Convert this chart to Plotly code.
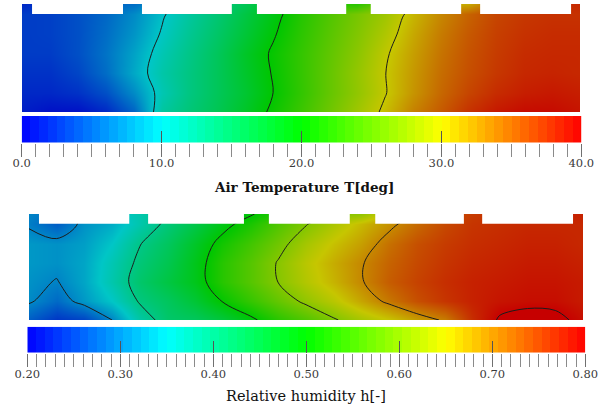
import numpy as np
import plotly.graph_objects as go

# ---------------- data ----------------
# grid columns (m along the room) and rows (height, last row = top of the inlets)
X_POS = [0, 0.5, 1, 1.5, 2, 2.5, 3, 3.5, 4, 4.5, 5, 5.5, 6, 6.5, 7, 7.5, 8, 8.5, 9, 9.5, 10]
Y_POS = [0, 0.35, 0.7, 1.05, 1.4, 1.76, 1.94]

# Air temperature [deg], rows bottom -> top
TEMP = [
    [1.5, 0.8, 0.8, 2.0, 5.0, 12.0, 14.0, 15.8, 18.0, 20.6, 23.0, 25.5, 28.0, 30.5, 33.5, 35.5, 37.5, 38.8, 39.5, 39.5, 39.0],
    [2.0, 2.0, 2.5, 4.0, 7.0, 11.0, 13.5, 15.5, 17.5, 20.0, 22.5, 25.0, 27.3, 29.8, 32.5, 34.8, 36.5, 37.8, 38.5, 38.8, 38.5],
    [2.5, 2.5, 3.5, 5.5, 8.5, 11.5, 13.5, 15.5, 17.8, 20.2, 22.6, 25.0, 27.4, 29.9, 32.3, 34.5, 36.0, 37.2, 38.0, 38.2, 38.0],
    [3.0, 3.0, 4.0, 5.8, 8.2, 11.0, 13.2, 15.4, 18.0, 20.4, 22.6, 24.8, 27.0, 29.6, 32.0, 34.2, 35.8, 37.0, 37.8, 38.0, 38.0],
    [3.0, 3.2, 4.0, 5.5, 7.5, 10.2, 12.6, 14.8, 17.2, 19.7, 22.2, 24.4, 26.5, 28.8, 31.5, 33.8, 35.5, 36.8, 37.5, 37.8, 37.8],
    [3.0, 3.2, 4.0, 5.2, 7.0, 9.6, 12.0, 14.2, 16.6, 19.0, 21.8, 24.0, 26.0, 28.0, 30.8, 33.2, 35.0, 36.5, 37.2, 37.5, 37.5],
    [2.0, 3.0, 4.0, 5.0, 5.5, 8.0, 11.0, 13.5, 15.7, 18.5, 21.0, 22.0, 22.0, 26.0, 29.0, 31.0, 31.5, 35.0, 37.0, 37.5, 38.0],
]

# Relative humidity [-], rows bottom -> top
HUM = [
    [0.27, 0.24, 0.25, 0.30, 0.375, 0.42, 0.43, 0.455, 0.49, 0.53, 0.56, 0.595, 0.625, 0.65, 0.68, 0.705, 0.765, 0.805, 0.815, 0.81, 0.79],
    [0.305, 0.28, 0.315, 0.35, 0.405, 0.43, 0.46, 0.503, 0.54, 0.575, 0.61, 0.64, 0.675, 0.71, 0.74, 0.76, 0.775, 0.785, 0.79, 0.79, 0.78],
    [0.31, 0.298, 0.325, 0.37, 0.42, 0.45, 0.48, 0.53, 0.565, 0.601, 0.635, 0.665, 0.697, 0.73, 0.75, 0.765, 0.775, 0.78, 0.785, 0.785, 0.78],
    [0.315, 0.31, 0.325, 0.365, 0.41, 0.44, 0.48, 0.53, 0.565, 0.603, 0.64, 0.67, 0.697, 0.725, 0.745, 0.76, 0.77, 0.775, 0.78, 0.78, 0.775],
    [0.315, 0.31, 0.32, 0.35, 0.398, 0.43, 0.47, 0.515, 0.55, 0.585, 0.625, 0.655, 0.68, 0.715, 0.74, 0.755, 0.765, 0.77, 0.775, 0.775, 0.77],
    [0.295, 0.27, 0.31, 0.33, 0.37, 0.41, 0.445, 0.485, 0.52, 0.56, 0.597, 0.63, 0.66, 0.69, 0.72, 0.745, 0.76, 0.765, 0.77, 0.77, 0.77],
    [0.30, 0.28, 0.31, 0.34, 0.37, 0.40, 0.44, 0.47, 0.495, 0.53, 0.57, 0.60, 0.61, 0.66, 0.70, 0.74, 0.755, 0.765, 0.77, 0.775, 0.775],
]

T_RANGE = [0.0, 40.0]
H_RANGE = [0.2, 0.8]
T_LEVELS = dict(start=10, end=30, size=10)
H_LEVELS = dict(start=0.3, end=0.8001, size=0.1)
T_TITLE = "<b>Air Temperature T[deg]</b>"
H_TITLE = "Relative humidity h[-]"
N_BANDS = 64

# inlet openings (x extents) on the top wall
INLETS_T = [(0, 0.18), (1.81, 2.15), (3.76, 4.21), (5.81, 6.25), (7.87, 8.21), (9.84, 10)]
INLETS_H = [(0, 0.18), (1.81, 2.15), (3.88, 4.33), (5.79, 6.25), (7.85, 8.18), (9.82, 10)]
ROOM_H = 1.76
TOP = 1.94

# ---------------- styles ----------------
def scale(cs, f):
    return [[p, f"rgb({int(r*f)},{int(g*f)},{int(b*f)})"] for p, (r, g, b) in cs]

BASE = [(0, (0, 0, 255)), (0.25, (0, 255, 255)), (0.5, (0, 255, 0)), (0.75, (255, 255, 0)), (1, (255, 0, 0))]
BRIGHT = scale(BASE, 1.0)
DARK = scale(BASE, 0.78)

TICKFONT = dict(family="DejaVu Serif", size=11.5, color="#3a3a3a")
LINE = dict(color="#1c1c1c", width=1, smoothing=1)

W, H = 608, 407
def fx(a, b):
    return [a / W, b / W]
def fy(top, bottom):
    return [1 - bottom / H, 1 - top / H]

fig = go.Figure()

def add_panel(z, rng, levels, xa, ya, inlets):
    fig.add_trace(go.Heatmap(x=X_POS, y=Y_POS, z=z, zmin=rng[0], zmax=rng[1],
                             colorscale=DARK, zsmooth="best", showscale=False,
                             xaxis=xa, yaxis=ya, hoverinfo="skip"))
    fig.add_trace(go.Contour(x=X_POS, y=Y_POS, z=z, autocontour=False,
                             contours=dict(coloring="none", **levels),
                             line=LINE, showscale=False,
                             xaxis=xa, yaxis=ya, hoverinfo="skip"))
    # mask the top strip between the inlets
    xs = [b for a, b in inlets[:-1]]
    xe = [a for a, b in inlets[1:]]
    for a, b in zip(xs, xe):
        fig.add_shape(type="rect", xref=xa, yref=ya, x0=a, x1=b, y0=ROOM_H, y1=TOP + 0.05,
                      fillcolor="white", line=dict(width=0), layer="above")

def add_bar(rng, xa, ya, xov):
    edges = np.linspace(rng[0], rng[1], N_BANDS + 1)
    centers = (edges[:-1] + edges[1:]) / 2
    fig.add_trace(go.Heatmap(x=edges, y=[0, 1], z=[centers], zmin=rng[0], zmax=rng[1],
                             colorscale=BRIGHT, showscale=False,
                             xaxis=xa, yaxis=ya, hoverinfo="skip"))
    fig.add_trace(go.Scatter(x=[], y=[], xaxis=xov, yaxis=ya, showlegend=False,
                             hoverinfo="skip"))

add_panel(TEMP, T_RANGE, T_LEVELS, "x", "y", INLETS_T)
add_bar(T_RANGE, "x2", "y2", "x3")
add_panel(HUM, H_RANGE, H_LEVELS, "x4", "y4", INLETS_H)
add_bar(H_RANGE, "x5", "y5", "x6")

hidden = dict(visible=False, fixedrange=True, automargin=False)

def bar_axis(domain, rng, dtick, fmt, yname):
    return dict(domain=domain, range=rng, anchor=yname, showgrid=False, zeroline=False,
                showline=False, ticks="outside", ticklen=13, tickwidth=1, tickcolor="#707070",
                tick0=rng[0], dtick=dtick, tickformat=fmt, tickfont=TICKFONT,
                ticklabelstandoff=-3, automargin=False,
                minor=dict(dtick=dtick / 10, ticks="outside", ticklen=13, tickwidth=1,
                           tickcolor="#8a8a8a", showgrid=False),
                fixedrange=True)

def inner_axis(over, rng, vals, yname):
    return dict(overlaying=over, anchor=yname, range=rng, tickvals=vals, ticks="inside",
                ticklen=12, tickwidth=1, tickcolor="#555555", showticklabels=False,
                showgrid=False, zeroline=False, showline=False, fixedrange=True,
                automargin=False)

fig.update_layout(
    template="none",
    width=W, height=H, autosize=False,
    margin=dict(l=0, r=0, t=0, b=0, pad=0, autoexpand=False),
    paper_bgcolor="white", plot_bgcolor="white", showlegend=False,
    xaxis=dict(domain=fx(22, 580), range=[0, 10], anchor="y", **hidden),
    yaxis=dict(domain=fy(4, 112), range=[0, TOP], anchor="x", **hidden),
    xaxis2=bar_axis(fx(21.7, 581.3), T_RANGE, 10, ".1f", "y2"),
    yaxis2=dict(domain=fy(116, 142.5), range=[0, 1], anchor="x2", **hidden),
    xaxis3=inner_axis("x2", T_RANGE, [10, 20, 30], "y2"),
    xaxis4=dict(domain=fx(29, 583), range=[0, 10], anchor="y4", **hidden),
    yaxis4=dict(domain=fy(214, 320), range=[0, TOP], anchor="x4", **hidden),
    xaxis5=bar_axis(fx(27.3, 585.3), H_RANGE, 0.1, ".2f", "y5"),
    yaxis5=dict(domain=fy(326.7, 352.7), range=[0, 1], anchor="x5", **hidden),
    xaxis6=inner_axis("x5", H_RANGE, [0.3, 0.4, 0.5, 0.6, 0.7], "y5"),
    annotations=[
        dict(text=T_TITLE, x=304 / W, y=1 - 186.5 / H, xref="paper", yref="paper",
             showarrow=False, xanchor="center", yanchor="middle",
             font=dict(family="DejaVu Serif", size=13.5, color="#111111")),
        dict(text=H_TITLE, x=306 / W, y=1 - 396 / H, xref="paper", yref="paper",
             showarrow=False, xanchor="center", yanchor="middle",
             font=dict(family="DejaVu Serif", size=14.5, color="#111111")),
    ],
)

# the page's default 8px body margin would shift the fixed-size figure
fig.write_html("out.html", config={"displayModeBar": False},
               post_script="document.body.style.margin='0px';")
